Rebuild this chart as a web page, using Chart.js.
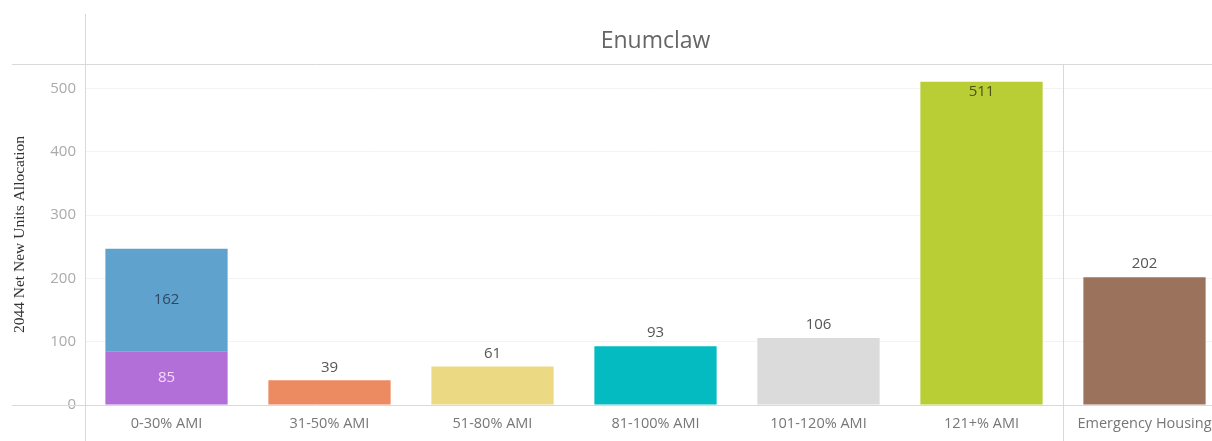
<!DOCTYPE html>
<html>
<head>
<meta charset="utf-8">
<script src="https://cdn.jsdelivr.net/npm/chart.js@4.4.1/dist/chart.umd.min.js"></script>
<style>
  html, body { margin: 0; padding: 0; background: #fff; }
  #wrap { width: 1212px; height: 441px; overflow: hidden; }
</style>
</head>
<body>
<div id="wrap"><canvas id="units" width="1226" height="441"></canvas></div>
<script>
const categories = ['0-30% AMI', '31-50% AMI', '51-80% AMI', '81-100% AMI', '101-120% AMI', '121+% AMI', 'Emergency Housing'];
const baseUnits = [85, 39, 61, 93, 106, 511, 202];
const upperUnits = [162, null, null, null, null, null, null];
const baseColors = ['#b26fd8', '#ec8a62', '#ecd983', '#03bbc0', '#dbdbdb', '#b9cd35', '#9b735c'];
const upperColors = ['#5fa2ce', null, null, null, null, null, null];
const yTicks = [0, 100, 200, 300, 400, 500];

const FONT = '"Open Sans", "DejaVu Sans", sans-serif';

// frame lines, title and value labels
const decorations = {
  id: 'decorations',
  beforeDatasetsDraw(chart) {
    const { ctx, chartArea: a, scales: { x } } = chart;
    const sep = (x.getPixelForValue(5) + x.getPixelForValue(6)) / 2;
    ctx.save();
    ctx.strokeStyle = '#d9d9d9';
    ctx.lineWidth = 1;
    ctx.beginPath();
    ctx.moveTo(12, a.top + 0.5); ctx.lineTo(chart.width, a.top + 0.5);
    ctx.moveTo(12, a.bottom + 0.5); ctx.lineTo(chart.width, a.bottom + 0.5);
    ctx.moveTo(a.left + 0.5, 14); ctx.lineTo(a.left + 0.5, chart.height);
    ctx.moveTo(Math.round(sep) + 0.5, a.top); ctx.lineTo(Math.round(sep) + 0.5, chart.height);
    ctx.stroke();

    ctx.fillStyle = '#666';
    ctx.font = '23px ' + FONT;
    ctx.textAlign = 'center';
    ctx.textBaseline = 'middle';
    ctx.fillText('Enumclaw', (a.left + a.right) / 2, 41);
    ctx.restore();
  },
  afterDatasetsDraw(chart) {
    const { ctx, chartArea: a } = chart;
    ctx.save();
    ctx.font = '15px ' + FONT;
    ctx.textAlign = 'center';
    ctx.textBaseline = 'middle';
    const lower = chart.getDatasetMeta(0).data;
    const upper = chart.getDatasetMeta(1).data;
    lower.forEach((bar, i) => {
      if (upperUnits[i] != null) {
        // stacked: label each segment in its middle
        ctx.fillStyle = '#f6d9f8';
        ctx.fillText(baseUnits[i], bar.x, (bar.y + bar.base) / 2);
        const top = upper[i];
        ctx.fillStyle = '#2f4862';
        ctx.fillText(upperUnits[i], top.x, (top.y + top.base) / 2);
      } else if (bar.y - 14 < a.top + 8) {
        ctx.fillStyle = '#4b5316';
        ctx.fillText(baseUnits[i], bar.x, bar.y + 10);
      } else {
        ctx.fillStyle = '#555';
        ctx.fillText(baseUnits[i], bar.x, bar.y - 13);
      }
    });
    ctx.restore();
  }
};

new Chart(document.getElementById('units'), {
  type: 'bar',
  data: {
    labels: categories,
    datasets: [
      { label: 'Units', data: baseUnits, backgroundColor: baseColors },
      { label: 'Units (upper)', data: upperUnits, backgroundColor: upperColors }
    ]
  },
  options: {
    responsive: false,
    animation: false,
    layout: { padding: { top: 64, left: 0, right: 0, bottom: 0 } },
    datasets: { bar: { categoryPercentage: 1, barPercentage: 0.75 } },
    plugins: { legend: { display: false }, tooltip: { enabled: false }, title: { display: false } },
    scales: {
      x: {
        stacked: true,
        border: { display: false },
        grid: { display: false },
        ticks: { color: '#777', font: { family: FONT, size: 14.5 }, padding: 2, maxRotation: 0, autoSkip: false },
        afterFit(scale) { scale.height = 36; }
      },
      y: {
        stacked: true,
        min: 0,
        max: 539,
        border: { display: false },
        grid: {
          drawTicks: false,
          color: (c) => (c.tick && c.tick.value > 0 ? '#f3f3f3' : 'rgba(0,0,0,0)')
        },
        ticks: { stepSize: 100, color: '#aaa', font: { family: FONT, size: 15 }, padding: 9 },
        afterBuildTicks(scale) { scale.ticks = yTicks.map((v) => ({ value: v })); },
        title: {
          display: true,
          text: '2044 Net New Units Allocation',
          color: '#333',
          font: { family: '"Liberation Serif", "DejaVu Serif", serif', size: 15.5 },
          padding: { top: 11, bottom: 0 }
        },
        afterFit(scale) { scale.width = 85; }
      }
    }
  },
  plugins: [decorations]
});
</script>
</body>
</html>
